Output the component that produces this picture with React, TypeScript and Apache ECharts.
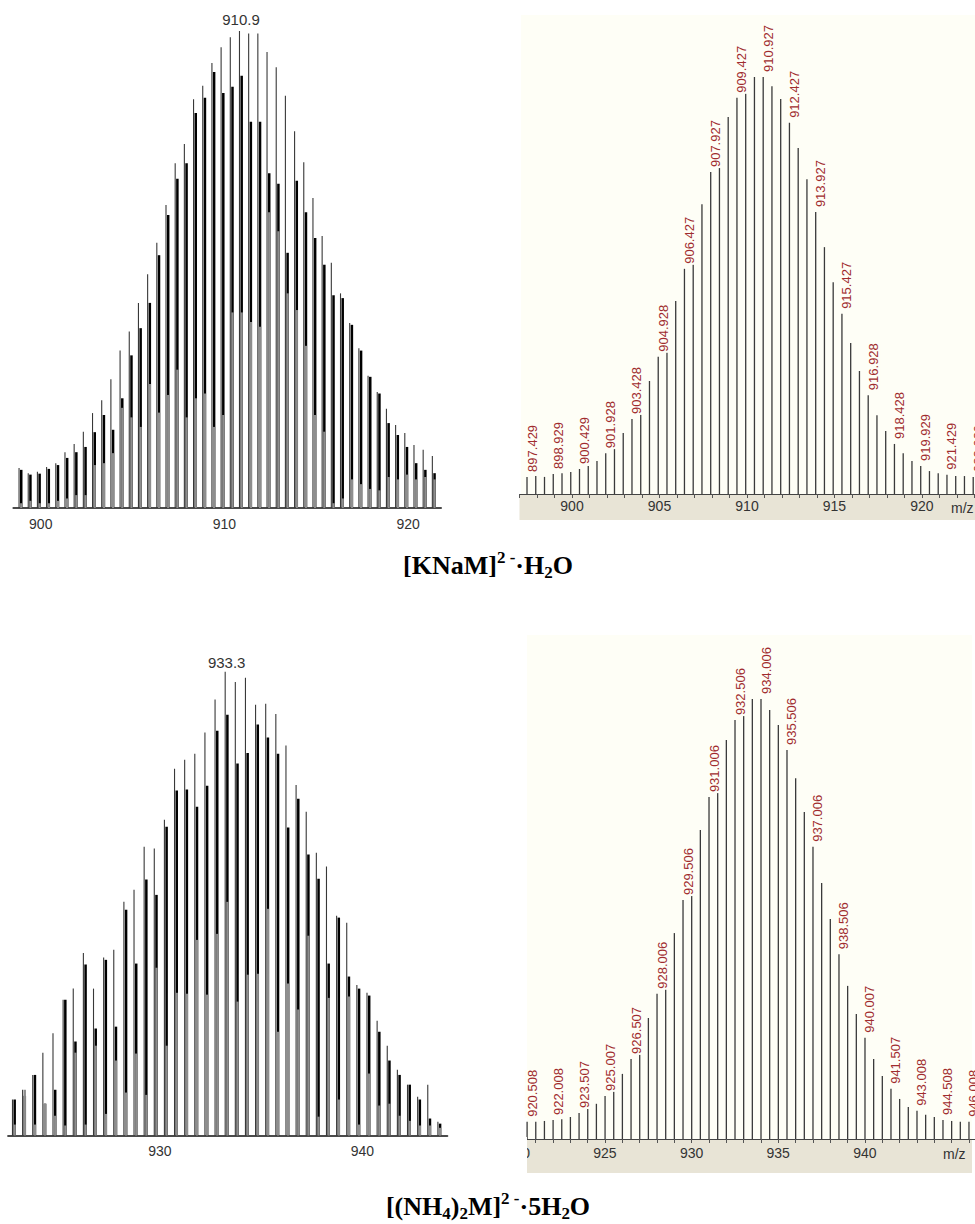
import React, { useEffect, useRef } from 'react';
import * as echarts from 'echarts';

const SANS = '"Liberation Sans", Arial, sans-serif';
const SERIF = '"Liberation Serif", "Times New Roman", serif';

// ---------- Top-left: measured spectrum of [KNaM]2-·H2O ----------
const tlMz = [898.9, 899.4, 899.9, 900.4, 900.9, 901.4, 901.9, 902.4, 902.9, 903.4, 903.9, 904.4, 904.9, 905.4, 905.9, 906.4, 906.9, 907.4, 907.9, 908.4, 908.9, 909.4, 909.9, 910.4, 910.9, 911.4, 911.9, 912.4, 912.9, 913.4, 913.9, 914.4, 914.9, 915.4, 915.9, 916.4, 916.9, 917.4, 917.9, 918.4, 918.9, 919.4, 919.9, 920.4, 920.9, 921.4];
const tlThin = [8.4, 7.3, 7.6, 8.6, 9.4, 11.7, 13.4, 16, 19.9, 22.6, 27, 33, 37, 43, 49, 55.6, 63.5, 72.3, 76.3, 85.7, 88.5, 93.3, 96.6, 98.7, 100, 99.5, 99.5, 95.6, 92.4, 86.4, 79, 72.5, 65, 57, 51.4, 45, 38.8, 33.5, 27.7, 24.3, 20.8, 17.4, 15.7, 13.2, 12.2, 10.9];
const tlThick = [8.0, 7.0, 7.2, 8.2, 9.0, 10.5, 11.7, 12.8, 15.9, 19.5, 16.4, 23, 32, 37.7, 43, 53, 61.4, 69, 72.3, 82.8, 86, 91.4, 87, 88.3, 90.6, 81, 81, 70.2, 68, 53.5, 68.6, 62, 56.6, 51, 44.6, 44, 38.4, 33, 27.5, 24, 17.8, 15.3, 12.8, 9.4, 8, 7.3];
const tlGray = [1, 1.5, 1, 1, 1.5, 2, 2.7, 2.7, 9, 9.4, 11.5, 21, 19, 17, 26, 20, 23.7, 29, 19, 23, 24, 17, 19.5, 41, 41, 39, 38, 62, 58, 45, 41.5, 34, 19.5, 16, 1, 2, 6, 5, 4, 3.7, 6.5, 6, 7, 6, 6.5, 6];
const tlPeakLabels = [910.9];
const tlTickLabels = [900, 910, 920];

// ---------- Bottom-left: measured spectrum of [(NH4)2M]2-·5H2O ----------
const blMz = [922.8, 923.3, 923.8, 924.3, 924.8, 925.3, 925.8, 926.3, 926.8, 927.3, 927.8, 928.3, 928.8, 929.3, 929.8, 930.3, 930.8, 931.3, 931.8, 932.3, 932.8, 933.3, 933.8, 934.3, 934.8, 935.3, 935.8, 936.3, 936.8, 937.3, 937.8, 938.3, 938.8, 939.3, 939.8, 940.3, 940.8, 941.3, 941.8, 942.3, 942.8, 943.3, 943.8];
const blThin = [7.8, 9.9, 13.1, 17.9, 22.1, 29.3, 31.7, 39.4, 31.7, 38.4, 40.1, 50.4, 53, 62.3, 61.9, 68.1, 79.1, 81, 82.3, 86.9, 94, 100, 97.8, 98.7, 92.9, 93.1, 90.9, 84.1, 75.6, 69.8, 61, 58, 47.4, 45.9, 32.5, 30.8, 24.8, 19.4, 14.2, 11, 8.4, 11, 3];
const blThick = [7.8, 8.6, 13.1, 6.9, 9.9, 29.3, 20.3, 36.9, 23.1, 37.9, 23.5, 48.7, 37.1, 55.2, 51.9, 66.6, 74.4, 74.6, 70.9, 75.4, 87.3, 90.7, 80.2, 82.5, 88.6, 85.8, 82.3, 66.4, 72.6, 60.6, 55.4, 37.1, 47, 34.3, 31.7, 30.2, 22.4, 16.2, 13.1, 11, 7.8, 3.7, 2.6];
const blGray = [2.4, 9.9, 2.4, 6.9, 4.3, 2.2, 17.9, 2.4, 19.4, 4.7, 16.2, 9.3, 17.7, 8.8, 36.2, 19.4, 30.8, 30.6, 42.2, 30.4, 43.5, 50.4, 28.9, 34.7, 34.9, 48.9, 22.4, 32.8, 27.2, 43.1, 4.1, 29.7, 7.8, 30, 2.4, 13.4, 6.5, 6.9, 4.3, 3.2, 2.2, 2.2, 1.7];
const blPeakLabels = [933.3];
const blTickLabels = [930, 940];

// ---------- Top-right: simulated pattern ----------
const trMz = [897.429, 897.929, 898.429, 898.929, 899.429, 899.929, 900.429, 900.929, 901.428, 901.928, 902.428, 902.928, 903.428, 903.928, 904.428, 904.928, 905.428, 905.927, 906.427, 906.927, 907.427, 907.927, 908.427, 908.927, 909.427, 909.927, 910.427, 910.927, 911.427, 911.927, 912.427, 912.927, 913.427, 913.927, 914.427, 914.927, 915.427, 915.927, 916.428, 916.928, 917.428, 917.928, 918.428, 918.928, 919.429, 919.929, 920.429, 920.929, 921.429, 921.929, 922.429, 922.929];
const trInt = [4.1, 4.3, 4.1, 4.8, 5.0, 5.3, 6.0, 6.7, 7.9, 9.8, 12.0, 14.6, 18.0, 22.3, 27.1, 32.9, 39.6, 46.3, 54.0, 61.9, 69.5, 77.2, 83.9, 90.4, 95.0, 98.3, 100, 100, 97.8, 94.7, 89.0, 83.0, 75.5, 67.6, 59.2, 50.8, 43.2, 36.2, 29.5, 23.7, 18.9, 15.1, 12.0, 9.8, 7.9, 6.7, 5.5, 5.0, 4.6, 4.3, 4.3, 4.1];
const trLabeled = ['897.429', '898.929', '900.429', '901.928', '903.428', '904.928', '906.427', '907.927', '909.427', '910.927', '912.427', '913.927', '915.427', '916.928', '918.428', '919.929', '921.429', '922.929'];
const trTickLabels = [900, 905, 910, 915, 920];

// ---------- Bottom-right: simulated pattern ----------
const brMz = [920.508, 921.008, 921.508, 922.008, 922.508, 923.007, 923.507, 924.007, 924.507, 925.007, 925.507, 926.007, 926.507, 927.007, 927.507, 928.006, 928.506, 929.006, 929.506, 930.006, 930.506, 931.006, 931.506, 932.006, 932.506, 933.006, 933.506, 934.006, 934.506, 935.006, 935.506, 936.006, 936.506, 937.006, 937.506, 938.006, 938.506, 939.006, 939.507, 940.007, 940.507, 941.007, 941.507, 942.007, 942.507, 943.008, 943.508, 944.008, 944.508, 945.008, 945.508, 946.008];
const brInt = [3.9, 3.9, 4.1, 4.3, 4.5, 5.0, 5.9, 6.8, 8.0, 9.8, 11.6, 14.8, 18.2, 22.0, 27.5, 33.0, 39.1, 46.8, 54.3, 62.3, 70.2, 77.7, 84.3, 90.7, 95.2, 98.2, 100, 100, 97.5, 94.1, 88.4, 82.0, 74.3, 66.4, 58.2, 50.0, 42.0, 34.8, 28.4, 23.0, 18.2, 14.3, 11.4, 9.1, 7.3, 6.4, 5.5, 5.0, 4.3, 4.1, 3.9, 3.9];
const brLabeled = ['920.508', '922.008', '923.507', '925.007', '926.507', '928.006', '929.506', '931.006', '932.506', '934.006', '935.506', '937.006', '938.506', '940.007', '941.507', '943.008', '944.508', '946.008'];
const brTickLabels = [920, 925, 930, 935, 940];

const PANEL_BG = '#FEFEF6';
const BAND_BG = '#E8E4D6';
const LABEL_RED = '#A02C2E';

const pairs = (xs: number[], ys: number[]) => xs.map((x, i) => [x, ys[i]]);

const stick = (width: number, color: string, dx: number) => (_p: any, api: any) => {
  const top = api.coord([api.value(0), api.value(1)]);
  const base = api.coord([api.value(0), 0]);
  const x = top[0] + dx;
  return {
    type: 'line',
    shape: { x1: x, y1: base[1], x2: x, y2: top[1] },
    style: { stroke: color, lineWidth: width },
  };
};

const simLabel = (_p: any, api: any) => {
  const p = api.coord([api.value(0), api.value(1)]);
  return {
    type: 'text',
    x: p[0] + 5,
    y: p[1] - 4,
    rotation: Math.PI / 2,
    style: {
      text: api.value(0).toFixed(3),
      fill: LABEL_RED,
      font: '13px ' + SANS,
      align: 'left',
      textAlign: 'left',
      verticalAlign: 'middle',
      textVerticalAlign: 'middle',
      backgroundColor: PANEL_BG,
      padding: [1, 0, 1, 1],
    },
  };
};

const expLabel = (gap: number) => (_p: any, api: any) => {
  const p = api.coord([api.value(0), api.value(1)]);
  return {
    type: 'text',
    x: p[0],
    y: p[1] - gap,
    style: {
      text: api.value(0).toFixed(1),
      fill: '#333',
      font: '15px ' + SANS,
      align: 'center',
      textAlign: 'center',
      verticalAlign: 'bottom',
      textVerticalAlign: 'bottom',
    },
  };
};

const tickFormatter = (list: number[]) => (v: number) =>
  list.some((t) => Math.abs(t - v) < 1e-3) ? String(Math.round(v)) : '';

const expAxis = (gi: number, min: number, max: number, ticks: number[], margin: number) => ({
  type: 'value',
  gridIndex: gi,
  min,
  max,
  interval: 0.5,
  axisLine: { show: true, onZero: false, lineStyle: { color: '#111', width: 1.6 } },
  axisTick: { show: false },
  splitLine: { show: false },
  axisLabel: { margin, fontSize: 14, color: '#333', fontFamily: SANS, formatter: tickFormatter(ticks) },
});

const simAxis = (gi: number, min: number, max: number, ticks: number[], margin: number) => ({
  type: 'value',
  gridIndex: gi,
  min,
  max,
  interval: 1,
  axisLine: { show: true, onZero: false, lineStyle: { color: '#444', width: 1 } },
  axisTick: { show: true, length: 4, lineStyle: { color: '#555' } },
  splitLine: { show: false },
  axisLabel: { margin, fontSize: 14, color: '#333', fontFamily: SANS, formatter: tickFormatter(ticks) },
});

const yAx = (gi: number) => ({ type: 'value', gridIndex: gi, min: 0, max: 100, show: false });

const custom = (gi: number, data: any[], renderItem: any, z = 2) => ({
  type: 'custom',
  coordinateSystem: 'cartesian2d',
  xAxisIndex: gi,
  yAxisIndex: gi,
  data,
  renderItem,
  silent: true,
  z,
});

// Each measured peak: a thick black stick whose lower part is overdrawn by a grey stick
// (second, weaker envelope), plus a thin dark stick just to its left that reaches higher.
const expSeries = (gi: number, mz: number[], gray: number[], thin: number[], thick: number[], labels: number[], gap: number) => [
  custom(gi, pairs(mz, thick), stick(2.5, '#000000', 0.7), 2),
  custom(gi, pairs(mz, gray), stick(2.3, '#8e8e8e', 0.7), 3),
  custom(gi, pairs(mz, thin), stick(1.1, '#383838', -1.5), 4),
  custom(gi, labels.map((m) => [m, thin[mz.indexOf(m)]]), expLabel(gap), 5),
];

const simSeries = (gi: number, mz: number[], ints: number[], labeled: string[]) => {
  const all = pairs(mz, ints);
  return [
    custom(gi, all, stick(1.3, '#3a3a3a', 0)),
    custom(gi, all.filter((d) => labeled.includes(d[0].toFixed(3))), simLabel, 5),
  ];
};

const captionRich = {
  m: { fontSize: 26, fontWeight: 'bold', fontFamily: SERIF, lineHeight: 32, verticalAlign: 'middle', fill: '#000', color: '#000' },
  sp: { fontSize: 17, fontWeight: 'bold', fontFamily: SERIF, lineHeight: 32, verticalAlign: 'top', fill: '#000', color: '#000' },
  sb: { fontSize: 17, fontWeight: 'bold', fontFamily: SERIF, lineHeight: 32, verticalAlign: 'bottom', fill: '#000', color: '#000' },
};

function buildOption() {
  const gridBase = { containLabel: false, outerBoundsMode: 'none', show: false };
  return {
    animation: false,
    backgroundColor: '#ffffff',
    grid: [
      { ...gridBase, left: 13.2, top: 31, width: 428, height: 477 },
      { ...gridBase, left: 519.5, top: 77, width: 463.7, height: 417 },
      { ...gridBase, left: 7.9, top: 671.7, width: 439.6, height: 464 },
      { ...gridBase, left: 518.3, top: 699, width: 459.2, height: 440 },
    ],
    xAxis: [
      expAxis(0, 898.5, 921.8, tlTickLabels, 9),
      simAxis(1, 897, 923.5, trTickLabels, 5),
      expAxis(2, 922.5, 944.2, blTickLabels, 8),
      simAxis(3, 920, 946.5, brTickLabels, 7),
    ],
    yAxis: [yAx(0), yAx(1), yAx(2), yAx(3)],
    graphic: [
      { type: 'rect', z: -10, shape: { x: 521, y: 15, width: 454, height: 479 }, style: { fill: PANEL_BG } },
      { type: 'rect', z: -10, shape: { x: 519.5, y: 494, width: 456, height: 26 }, style: { fill: BAND_BG } },
      { type: 'rect', z: -10, shape: { x: 527, y: 635, width: 445, height: 504 }, style: { fill: PANEL_BG } },
      { type: 'rect', z: -10, shape: { x: 527, y: 1139, width: 445, height: 34 }, style: { fill: BAND_BG } },
      { type: 'rect', z: 100, shape: { x: 498, y: 1137, width: 29, height: 40 }, style: { fill: '#ffffff' } },
      {
        type: 'text', z: 50, x: 951, y: 508,
        style: { text: 'm/z', font: '14px ' + SANS, fill: '#333', align: 'left', textAlign: 'left', verticalAlign: 'middle', textVerticalAlign: 'middle' },
      },
      {
        type: 'text', z: 50, x: 943, y: 1154,
        style: { text: 'm/z', font: '14px ' + SANS, fill: '#333', align: 'left', textAlign: 'left', verticalAlign: 'middle', textVerticalAlign: 'middle' },
      },
      {
        type: 'text', z: 50, x: 488, y: 549,
        style: {
          text: '{m|[KNaM]}{sp|2 -}{m|·H}{sb|2}{m|O}',
          rich: captionRich,
          font: 'bold 26px ' + SERIF,
          fill: '#000',
          align: 'center', textAlign: 'center',
          verticalAlign: 'top', textVerticalAlign: 'top',
        },
      },
      {
        type: 'text', z: 50, x: 488, y: 1190,
        style: {
          text: '{m|[(NH}{sb|4}{m|)}{sb|2}{m|M]}{sp|2 -}{m|·5H}{sb|2}{m|O}',
          rich: captionRich,
          font: 'bold 26px ' + SERIF,
          fill: '#000',
          align: 'center', textAlign: 'center',
          verticalAlign: 'top', textVerticalAlign: 'top',
        },
      },
    ],
    series: [
      ...expSeries(0, tlMz, tlGray, tlThin, tlThick, tlPeakLabels, 4),
      ...simSeries(1, trMz, trInt, trLabeled),
      ...expSeries(2, blMz, blGray, blThin, blThick, blPeakLabels, 2),
      ...simSeries(3, brMz, brInt, brLabeled),
    ],
  };
}

export default function App() {
  const ref = useRef<HTMLDivElement>(null);
  useEffect(() => {
    if (!ref.current) return;
    const chart = echarts.init(ref.current, null, { renderer: 'svg' });
    chart.setOption(buildOption() as any);
    return () => chart.dispose();
  }, []);
  return (
    <div
      ref={ref}
      style={{ position: 'absolute', left: 0, top: 0, width: 975, height: 1224, background: '#ffffff' }}
    />
  );
}
